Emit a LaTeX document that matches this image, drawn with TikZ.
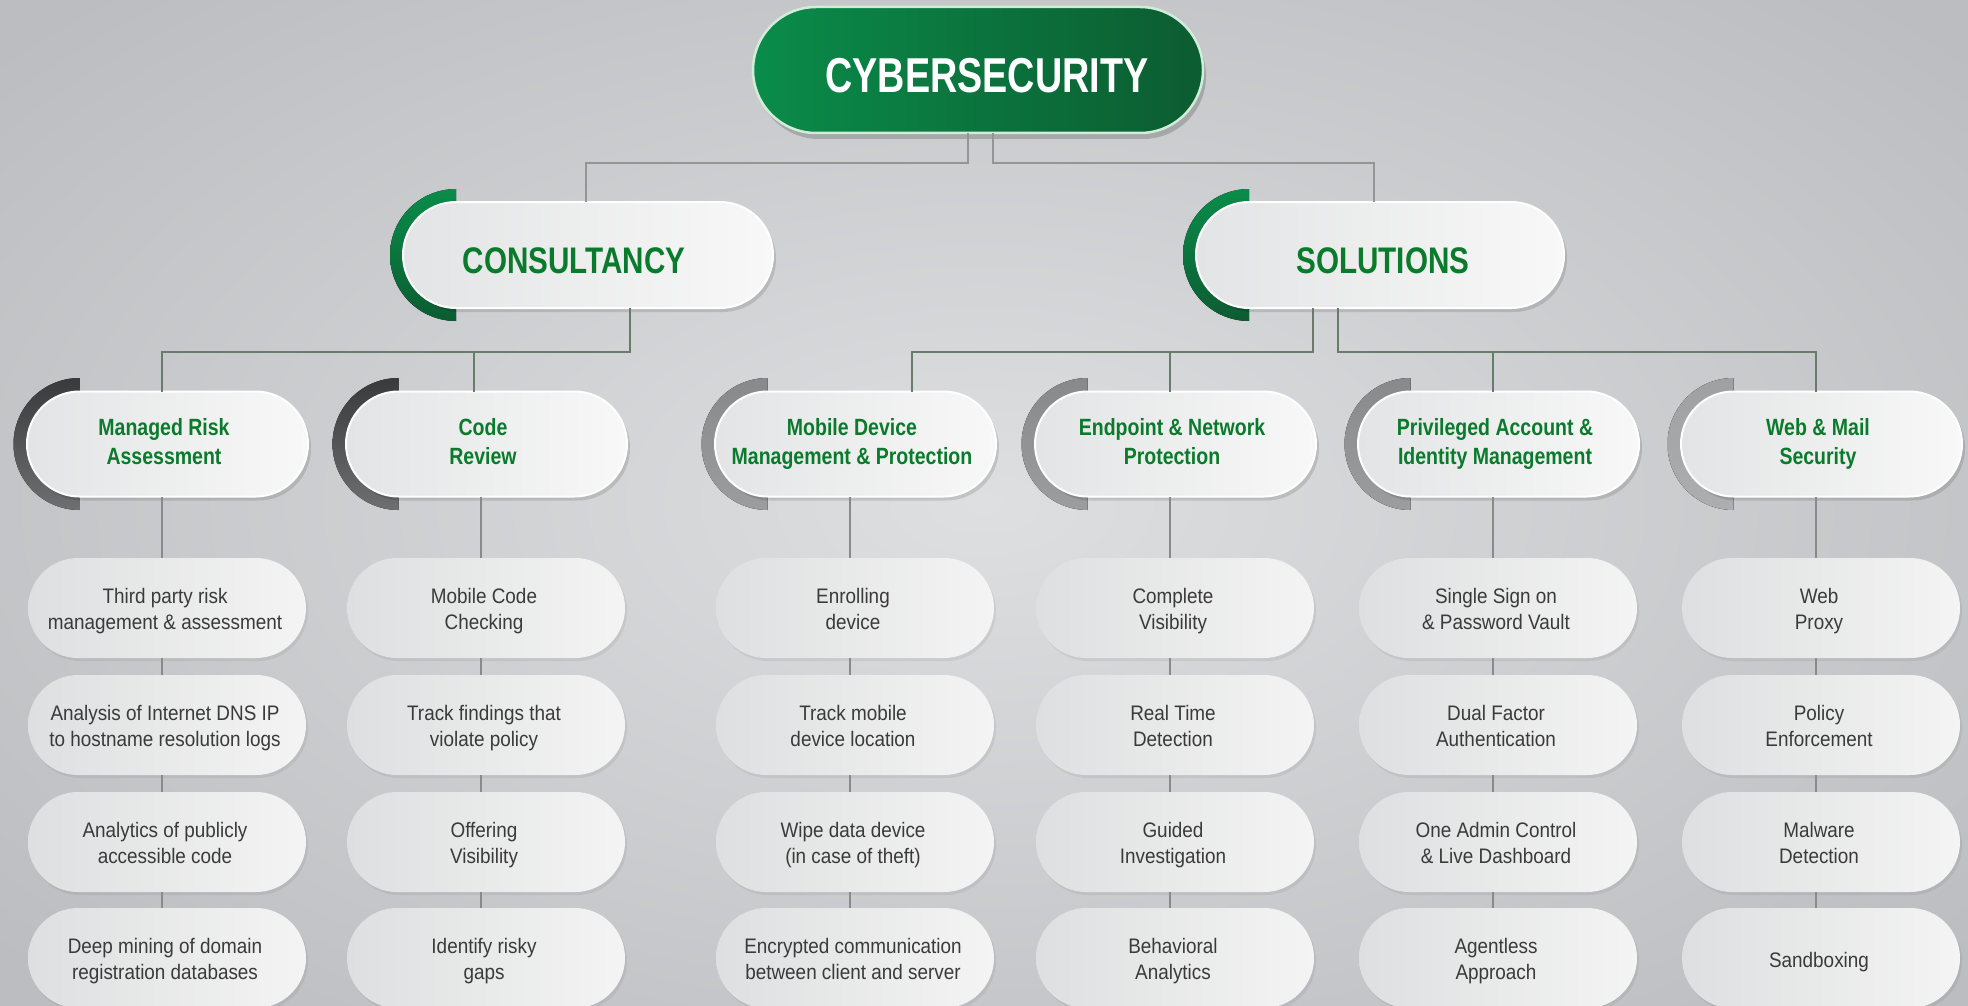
\documentclass[tikz,border=0pt]{standalone}
\usepackage{fontspec}
\setmainfont{Liberation Sans}
\newfontfamily\leaffont[FakeStretch=0.9]{Liberation Sans}
\newfontfamily\catfont[FakeStretch=0.83]{Liberation Sans}
\newfontfamily\lonefont[FakeStretch=0.8]{Liberation Sans}
\newfontfamily\headfont[FakeStretch=0.77]{Liberation Sans}
\usetikzlibrary{shapes.misc,shadows,calc}
\definecolor{bgin}{HTML}{DEDFE1}
\definecolor{bgout}{HTML}{BCBDC0}
\definecolor{txtgreen}{HTML}{0A7A2C}
\definecolor{leaftxt}{HTML}{3A3A3A}
\definecolor{gA}{HTML}{0A8C4A}
\definecolor{gB}{HTML}{0C5C31}
\definecolor{gBorder}{HTML}{D2ECDA}
\definecolor{connT}{HTML}{959595}
\definecolor{connG}{HTML}{687C6C}
\definecolor{connL}{HTML}{8A8A8A}
\definecolor{dkA}{HTML}{393A3B}
\definecolor{dkB}{HTML}{6E6F70}
\definecolor{mdA}{HTML}{88898B}
\definecolor{mdB}{HTML}{9C9D9F}
\definecolor{ltA}{HTML}{9FA0A2}
\definecolor{ltB}{HTML}{ADAEB0}
\definecolor{pillL}{HTML}{E3E4E5}
\definecolor{pillR}{HTML}{F8F8F8}
\definecolor{leafL}{HTML}{DEDFE0}
\definecolor{leafR}{HTML}{F4F4F4}
\tikzset{
  toppill/.style={rounded rectangle, minimum width=450pt, minimum height=126pt, inner sep=0pt, outer sep=0pt,
    left color=gA, right color=gB, draw=gBorder, line width=2.5pt,
    drop shadow={shadow xshift=3pt, shadow yshift=-6pt, opacity=0.18, fill=black}},
  l1pill/.style={rounded rectangle, minimum width=#1, minimum height=106pt, inner sep=0pt, outer sep=0pt,
    left color=pillL, right color=pillR, draw=white, line width=2pt,
    drop shadow={shadow xshift=3pt, shadow yshift=-4pt, opacity=0.12, fill=black}},
  catpill/.style={rounded rectangle, minimum width=281pt, minimum height=105pt, inner sep=0pt, outer sep=0pt,
    left color=pillL, right color=pillR, draw=white, line width=2pt,
    drop shadow={shadow xshift=3pt, shadow yshift=-4pt, opacity=0.12, fill=black}},
  leaf/.style={rounded rectangle, minimum width=278pt, minimum height=100pt, inner sep=0pt, outer sep=0pt,
    left color=leafL, right color=leafR,
    drop shadow={shadow xshift=2pt, shadow yshift=-3pt, opacity=0.06, fill=black}},
  toptext/.style={anchor=base, text=white, font=\headfont\bfseries\fontsize{49}{50}\selectfont, inner sep=0pt},
  l1text/.style={anchor=base, text=txtgreen, font=\lonefont\bfseries\fontsize{37}{40}\selectfont, inner sep=0pt},
  cattext/.style={align=center, text=txtgreen, font=\catfont\bfseries\fontsize{23.5}{29}\selectfont, inner sep=0pt,
    execute at begin node=\strut, execute at end node=\strut},
  leaftext/.style={align=center, text=leaftxt, font=\leaffont\fontsize{21}{26}\selectfont, inner sep=0pt,
    execute at begin node=\strut, execute at end node=\strut},
  connTop/.style={draw=connT, line width=2pt},
  connGreen/.style={draw=connG, line width=2pt},
  connLeaf/.style={draw=connL, line width=2pt},
}
\begin{document}
\begin{tikzpicture}[x=1pt, y=-1pt]
\useasboundingbox (0,0) rectangle (1968,1006);
\clip (0,0) rectangle (1968,1006);
\shade[inner color=bgin, outer color=bgout] (-300,-200) rectangle (2268,1206);

% top node
\node[toppill] (top) at (978,70) {};
\node[toptext] (toptxt) at (987,92.5) {CYBERSECURITY};

% level 1 arcs
\fill[top color=gA, bottom color=gB] (456,321) arc[start angle=90, end angle=270, radius=66]
  -- (456,202) arc[start angle=270, end angle=90, radius=53] -- cycle;
\fill[top color=gA, bottom color=gB] (1249,321) arc[start angle=90, end angle=270, radius=66]
  -- (1249,202) arc[start angle=270, end angle=90, radius=53] -- cycle;
\node[l1pill=370pt] (cons) at (588,255) {};
\node[l1pill=368pt] (sol) at (1380,255) {};
\node[l1text] (constxt) at (574,273.5) {CONSULTANCY};
\node[l1text] (soltxt) at (1383,273.5) {SOLUTIONS};

% level 2
\foreach \i/\L/\ca/\cb/\txt in {
  1/162/dkA/dkB/{Managed Risk\\Assessment},
  2/481/dkA/dkB/{Code\\Review},
  3/850/mdA/mdB/{Mobile Device\\Management \& Protection},
  4/1170/mdA/mdB/{Endpoint \& Network\\Protection},
  5/1493/mdA/mdB/{Privileged Account \&\\Identity Management},
  6/1816/ltA/ltB/{Web \& Mail\\Security}}
{
  \coordinate (x\i) at (\L,0);
  \fill[top color=\ca, bottom color=\cb] (\L-82.5,510) arc[start angle=90, end angle=270, radius=66]
    -- (\L-82.5,391.5) arc[start angle=270, end angle=90, radius=52.5] -- cycle;
  \node[catpill] (cat\i) at (\L+5.5,444) {};
  \node[cattext] (ct\i) at (\L+2,445.5) {\txt};
}

% leaves
\foreach \i/\L/\ta/\tb/\tc/\td in {
  1/162/{Third party risk\\management \& assessment}/{Analysis of Internet DNS IP\\to hostname resolution logs}/{Analytics of publicly\\accessible code}/{Deep mining of domain\\registration databases},
  2/481/{Mobile Code\\Checking}/{Track findings that\\violate policy}/{Offering\\Visibility}/{Identify risky\\gaps},
  3/850/{Enrolling\\device}/{Track mobile\\device location}/{Wipe data device\\(in case of theft)}/{Encrypted communication\\between client and server},
  4/1170/{Complete\\Visibility}/{Real Time\\Detection}/{Guided\\Investigation}/{Behavioral\\Analytics},
  5/1493/{Single Sign on\\\& Password Vault}/{Dual Factor\\Authentication}/{One Admin Control\\\& Live Dashboard}/{Agentless\\Approach},
  6/1816/{Web\\Proxy}/{Policy\\Enforcement}/{Malware\\Detection}/{Sandboxing}}
{
  \node[leaf] (l\i-1) at (\L+5,608) {};
  \node[leaf] (l\i-2) at (\L+5,725) {};
  \node[leaf] (l\i-3) at (\L+5,842) {};
  \node[leaf] (l\i-4) at (\L+5,958) {};
  \node[leaftext] (lt\i-1) at (\L+3,612.4) {\ta};
  \node[leaftext] (lt\i-2) at (\L+3,729.4) {\tb};
  \node[leaftext] (lt\i-3) at (\L+3,846.4) {\tc};
  \node[leaftext] (lt\i-4) at (\L+3,962.4) {\td};
  \draw[connLeaf] (cat\i.south -| x\i) -- (l\i-1.north -| x\i);
  \draw[connLeaf] (l\i-1.south -| x\i) -- (l\i-2.north -| x\i);
  \draw[connLeaf] (l\i-2.south -| x\i) -- (l\i-3.north -| x\i);
  \draw[connLeaf] (l\i-3.south -| x\i) -- (l\i-4.north -| x\i);
}

% top connectors
\coordinate (tl) at (968,163);
\coordinate (tr) at (993,163);
\coordinate (vl) at (586,163);
\coordinate (vr) at (1374,163);
\draw[connTop] (top.south -| tl) -- (tl) -- (vl) -- (cons.north -| vl);
\draw[connTop] (top.south -| tr) -- (tr) -- (vr) -- (sol.north -| vr);

% level 1 -> level 2 connectors
\coordinate (hc) at (630,352);
\coordinate (hsl) at (1313,352);
\coordinate (hsr) at (1338,352);
\coordinate (u1) at (162,352);
\coordinate (u2) at (474,352);
\coordinate (u3) at (912,352);
\coordinate (u4) at (1170,352);
\coordinate (u5) at (1493,352);
\coordinate (u6) at (1816,352);
\draw[connGreen] (cons.south -| hc) -- (hc) -- (u1) -- (cat1.north -| u1);
\draw[connGreen] (u2) -- (cat2.north -| u2);
\draw[connGreen] (sol.south -| hsl) -- (hsl) -- (u3) -- (cat3.north -| u3);
\draw[connGreen] (u4) -- (cat4.north -| u4);
\draw[connGreen] (sol.south -| hsr) -- (hsr) -- (u6) -- (cat6.north -| u6);
\draw[connGreen] (u5) -- (cat5.north -| u5);
\end{tikzpicture}
\end{document}
